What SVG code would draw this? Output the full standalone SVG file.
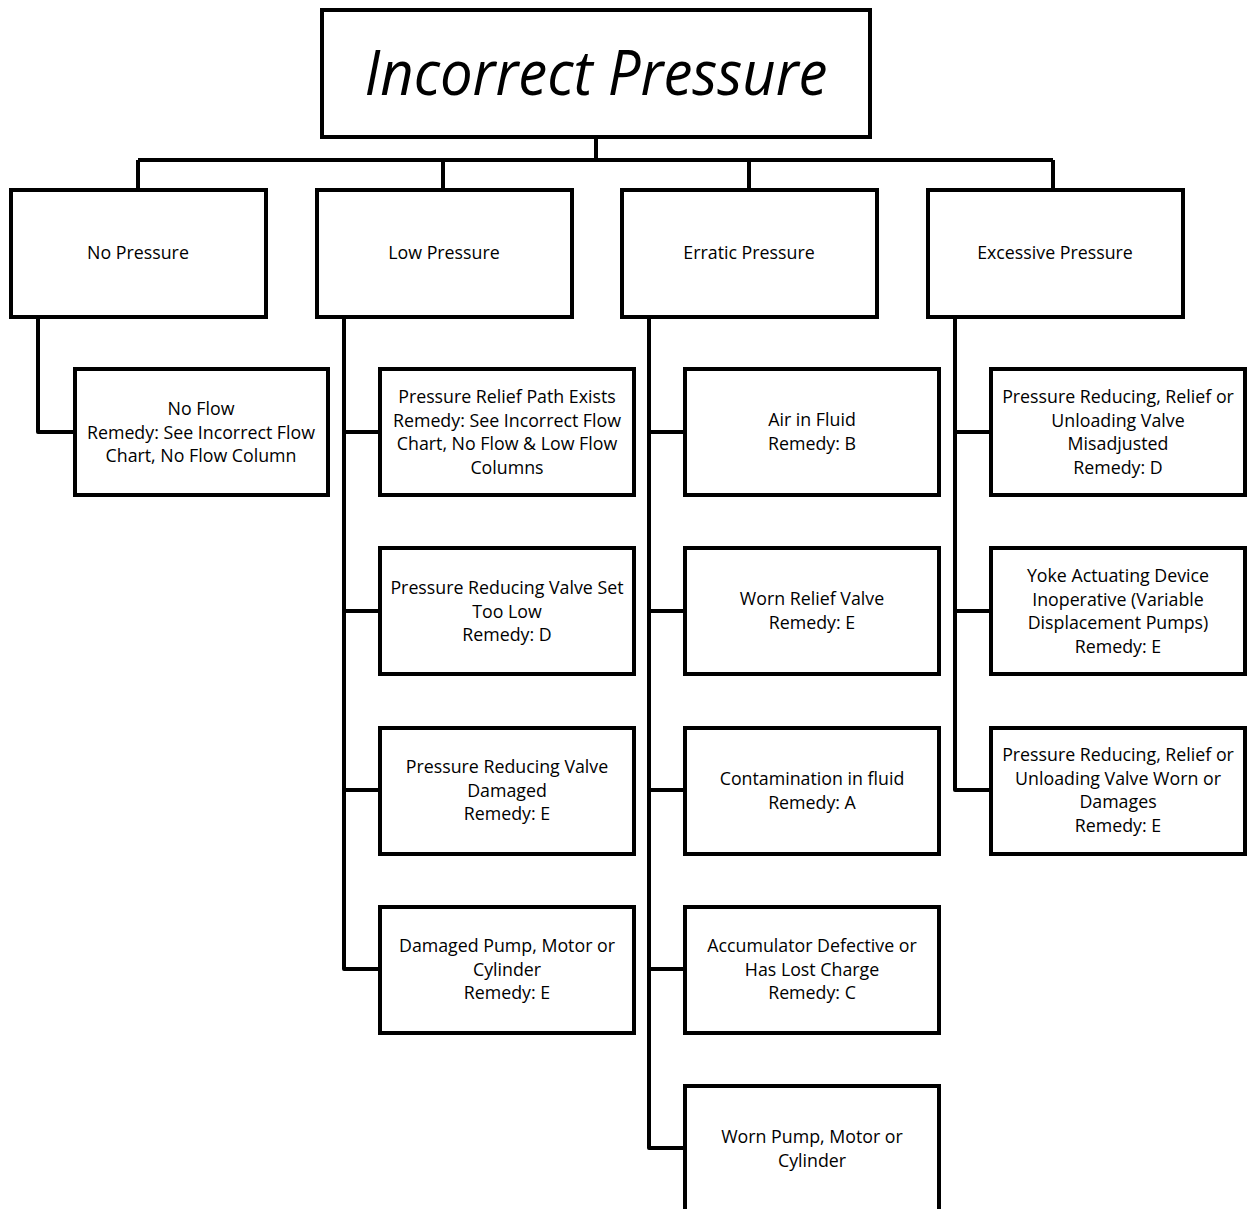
<svg xmlns="http://www.w3.org/2000/svg" width="1249" height="1209" viewBox="0 0 1249 1209">
<style>
.box{fill:#fff;stroke:#000;stroke-width:4}
.ln{fill:none;stroke:#000;stroke-width:4;stroke-linejoin:round}
.t{font-family:"Open Sans","Liberation Sans",sans-serif;font-size:17.8px;fill:#000;text-anchor:middle}
.title{font-family:"Open Sans","Liberation Sans",sans-serif;font-style:italic;font-size:62px;fill:#000;text-anchor:middle}
</style>
<rect width="1249" height="1209" fill="#fff"/>
<g id="connectors">
<path class="ln" d="M596,137 V160 M138,160 H1053 M138,160 V190 M443,160 V190 M749,160 V190 M1053,160 V190"/>
<path class="ln" d="M38,317 V432 H75"/>
<path class="ln" d="M344,317 V969 H380 M344,432 H380 M344,611 H380 M344,790 H380"/>
<path class="ln" d="M649,317 V1148 H685 M649,432 H685 M649,611 H685 M649,790 H685 M649,969 H685"/>
<path class="ln" d="M955,317 V790 H991 M955,432 H991 M955,611 H991"/>
</g>
<g id="title"><rect class="box" x="322" y="10" width="548" height="127"/><text class="title" x="596" y="95" textLength="463" lengthAdjust="spacingAndGlyphs">Incorrect Pressure</text></g>
<g id="no-pressure"><rect class="box" x="11" y="190" width="255" height="127"/><text class="t" x="138" y="259">No Pressure</text></g>
<g id="low-pressure"><rect class="box" x="317" y="190" width="255" height="127"/><text class="t" x="444" y="259">Low Pressure</text></g>
<g id="erratic-pressure"><rect class="box" x="622" y="190" width="255" height="127"/><text class="t" x="749" y="259">Erratic Pressure</text></g>
<g id="excessive-pressure"><rect class="box" x="928" y="190" width="255" height="127"/><text class="t" x="1055" y="259">Excessive Pressure</text></g>

<g id="no-flow"><rect class="box" x="75" y="369" width="253" height="126"/><text class="t" x="201" y="415">No Flow<tspan x="201" dy="23.5">Remedy: See Incorrect Flow</tspan><tspan x="201" dy="23.5">Chart, No Flow Column</tspan></text></g>

<g id="relief-path"><rect class="box" x="380" y="369" width="254" height="126"/><text class="t" x="507" y="403">Pressure Relief Path Exists<tspan x="507" dy="23.5">Remedy: See Incorrect Flow</tspan><tspan x="507" dy="23.5">Chart, No Flow &amp; Low Flow</tspan><tspan x="507" dy="23.5">Columns</tspan></text></g>
<g id="valve-set-low"><rect class="box" x="380" y="548" width="254" height="126"/><text class="t" x="507" y="594">Pressure Reducing Valve Set<tspan x="507" dy="23.5">Too Low</tspan><tspan x="507" dy="23.5">Remedy: D</tspan></text></g>
<g id="valve-damaged"><rect class="box" x="380" y="728" width="254" height="126"/><text class="t" x="507" y="773">Pressure Reducing Valve<tspan x="507" dy="23.5">Damaged</tspan><tspan x="507" dy="23.5">Remedy: E</tspan></text></g>
<g id="damaged-pump"><rect class="box" x="380" y="907" width="254" height="126"/><text class="t" x="507" y="952">Damaged Pump, Motor or<tspan x="507" dy="23.5">Cylinder</tspan><tspan x="507" dy="23.5">Remedy: E</tspan></text></g>

<g id="air-in-fluid"><rect class="box" x="685" y="369" width="254" height="126"/><text class="t" x="812" y="426">Air in Fluid<tspan x="812" dy="23.5">Remedy: B</tspan></text></g>
<g id="worn-relief"><rect class="box" x="685" y="548" width="254" height="126"/><text class="t" x="812" y="605">Worn Relief Valve<tspan x="812" dy="23.5">Remedy: E</tspan></text></g>
<g id="contamination"><rect class="box" x="685" y="728" width="254" height="126"/><text class="t" x="812" y="785">Contamination in fluid<tspan x="812" dy="23.5">Remedy: A</tspan></text></g>
<g id="accumulator"><rect class="box" x="685" y="907" width="254" height="126"/><text class="t" x="812" y="952">Accumulator Defective or<tspan x="812" dy="23.5">Has Lost Charge</tspan><tspan x="812" dy="23.5">Remedy: C</tspan></text></g>
<g id="worn-pump"><rect class="box" x="685" y="1086" width="254" height="140"/><text class="t" x="812" y="1143">Worn Pump, Motor or<tspan x="812" dy="23.5">Cylinder</tspan></text></g>

<g id="misadjusted"><rect class="box" x="991" y="369" width="254" height="126"/><text class="t" x="1118" y="403">Pressure Reducing, Relief or<tspan x="1118" dy="23.5">Unloading Valve</tspan><tspan x="1118" dy="23.5">Misadjusted</tspan><tspan x="1118" dy="23.5">Remedy: D</tspan></text></g>
<g id="yoke"><rect class="box" x="991" y="548" width="254" height="126"/><text class="t" x="1118" y="582">Yoke Actuating Device<tspan x="1118" dy="23.5">Inoperative (Variable</tspan><tspan x="1118" dy="23.5">Displacement Pumps)</tspan><tspan x="1118" dy="23.5">Remedy: E</tspan></text></g>
<g id="worn-valve"><rect class="box" x="991" y="728" width="254" height="126"/><text class="t" x="1118" y="761">Pressure Reducing, Relief or<tspan x="1118" dy="23.5">Unloading Valve Worn or</tspan><tspan x="1118" dy="23.5">Damages</tspan><tspan x="1118" dy="23.5">Remedy: E</tspan></text></g>
</svg>
